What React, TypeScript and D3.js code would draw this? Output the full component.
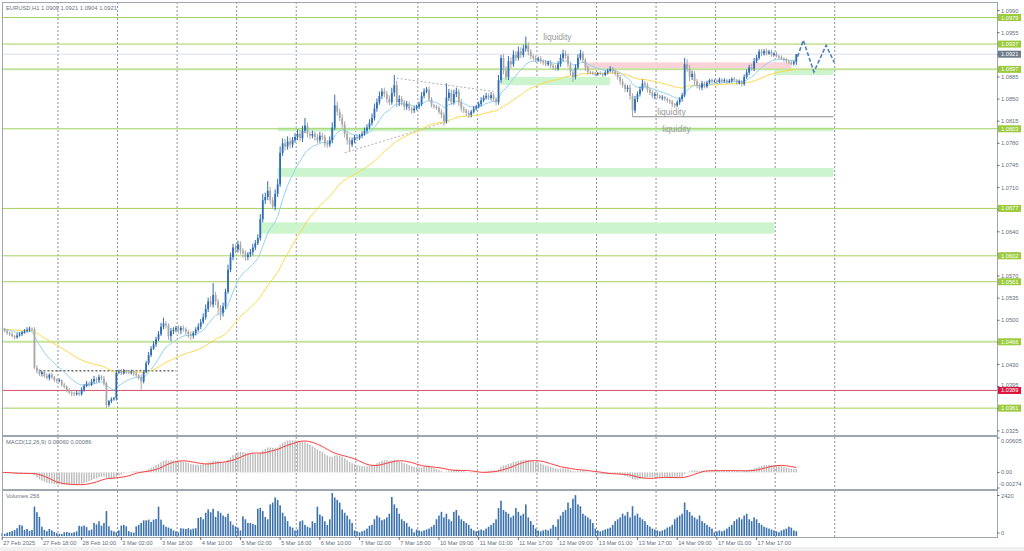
import React from 'react';
import * as d3 from 'd3';

// ---------------- DATA ----------------
// closes in pips above 1.0000 (e.g. 486 -> 1.0486), one per H1 bar
const closePips = [
  486,483,480,478,475,473,476,478,481,483,485,487,486,425,420,415,418,412,409,414,
  410,406,404,405,398,395,390,386,384,383,385,383,390,396,400,398,403,407,405,410,
  408,400,366,372,375,377,417,419,416,420,418,417,419,416,413,410,403,418,432,445,
  455,462,470,478,490,495,492,475,483,485,488,484,488,486,482,478,476,480,485,490,
  497,505,518,530,525,540,530,520,512,522,545,580,600,615,612,620,610,606,600,604,
  608,615,622,630,660,690,695,705,690,680,700,715,765,780,775,783,778,785,790,795,
  788,800,808,795,792,795,790,785,792,790,780,778,785,805,840,830,820,810,795,785,
  778,785,790,788,792,795,800,805,812,820,835,845,855,862,858,850,845,860,872,845,
  850,845,838,842,835,832,835,838,842,855,862,865,850,840,838,836,830,825,815,852,
  860,845,858,862,845,835,832,828,825,830,835,838,842,848,852,855,852,856,850,845,
  880,915,895,885,910,905,920,915,925,920,930,935,925,918,915,912,914,910,908,905,
  908,903,900,898,905,915,922,918,905,892,885,900,915,922,912,900,893,892,890,889,
  891,890,888,892,895,898,894,890,885,878,872,866,868,855,832,850,858,865,875,872,
  865,860,855,858,855,852,853,850,848,846,842,840,845,850,856,905,898,885,890,878,
  872,868,875,870,876,880,878,879,877,881,878,880,877,879,882,880,876,878,874,885,
  892,900,898,910,915,925,922,926,922,925,920,922,918,916,914,912,910,908,906,909,
  921,
];
const firstOpenPips = 488;
const wickUpPips = [
  3,2,3,2,3,2,4,3,2,3,4,3,2,3,4,3,2,3,4,2,
  3,2,2,3,2,3,2,3,2,3,4,3,4,3,4,3,4,5,3,4,
  3,4,3,2,3,2,4,3,4,3,2,3,3,2,3,2,4,3,4,5,
  4,5,4,5,6,9,4,3,5,4,3,4,3,4,3,3,4,3,4,5,
  5,6,7,6,8,19,5,4,4,6,5,8,7,6,5,6,5,4,5,4,
  5,6,5,6,8,10,7,15,6,5,7,9,10,8,7,8,6,5,6,7,
  6,8,12,5,4,5,4,5,6,5,4,5,6,8,17,6,5,6,5,4,
  5,4,3,4,3,4,5,5,6,7,8,6,7,5,6,5,6,8,16,7,
  6,5,4,5,4,3,4,3,4,6,5,4,5,3,2,3,3,4,4,23,
  6,5,7,6,4,5,4,3,4,3,4,3,4,5,4,5,4,5,4,3,
  8,5,6,7,8,6,7,6,8,7,6,14,5,4,3,4,3,4,3,4,
  3,4,3,4,5,6,6,5,4,3,4,5,6,6,4,3,3,2,2,3,
  2,3,2,3,3,4,3,3,4,3,4,3,4,5,4,5,4,5,6,4,
  4,3,4,3,3,2,3,2,3,2,3,2,3,3,4,10,8,6,5,4,
  4,3,4,3,3,2,3,2,2,3,2,3,2,3,2,3,2,3,2,4,
  5,4,6,5,5,4,4,3,4,3,3,2,3,2,3,2,3,2,3,2,
  0,
];
const wickDnPips = [
  3,2,3,3,2,3,2,2,3,2,2,3,3,2,4,3,4,3,3,4,
  3,4,3,2,3,3,4,3,4,3,2,3,2,3,2,3,2,3,4,3,
  3,4,5,3,3,2,4,2,3,2,3,2,3,4,3,4,13,3,2,3,
  3,2,4,3,3,4,5,6,8,5,4,5,6,4,5,6,7,5,4,3,
  4,3,4,5,4,5,6,10,12,6,4,3,4,5,6,5,6,7,6,5,
  4,5,4,3,4,5,6,5,6,4,6,5,4,5,6,5,6,5,4,5,
  5,6,4,6,5,4,6,5,4,5,6,5,4,5,4,6,5,5,6,7,
  11,4,5,4,3,4,3,4,3,4,4,5,4,5,5,6,5,4,6,8,
  6,5,6,5,4,5,4,3,4,3,4,3,4,3,3,3,4,5,7,4,
  5,4,4,5,6,5,4,5,5,4,3,3,3,4,3,3,3,4,4,5,
  4,5,6,5,5,6,4,5,4,5,4,5,6,5,4,4,3,4,4,3,
  3,4,4,3,3,4,5,4,5,5,8,4,3,4,5,6,5,3,2,3,
  2,2,3,2,3,3,4,3,4,5,4,5,5,6,10,4,5,4,3,4,
  5,4,4,5,4,3,4,3,4,4,5,4,3,4,4,3,5,7,5,6,
  5,4,4,3,3,2,3,2,3,2,3,2,3,2,3,2,3,3,4,3,
  3,4,3,4,3,3,4,3,3,2,3,3,2,3,2,3,3,3,2,3,
  5,
];
const volumes = [
  150,120,180,220,260,320,420,600,560,330,380,280,320,1580,1280,1030,500,330,260,380,
  300,220,150,120,110,200,220,180,160,200,250,550,520,560,480,300,350,700,620,790,
  560,700,1340,520,300,250,200,300,560,600,520,260,200,180,515,600,700,840,840,880,
  760,880,915,1575,880,605,500,450,400,300,250,200,420,400,380,420,350,400,420,970,
  1025,900,1250,1430,1280,1465,1025,1340,1250,1100,1025,1200,790,600,515,450,300,1060,900,700,
  700,650,600,1465,1520,1340,1025,900,1700,1800,2070,1940,1650,1250,1060,800,515,450,300,350,
  790,840,600,500,450,790,700,1575,1155,1060,790,600,900,2310,2070,1940,1800,1430,1250,1100,
  900,700,300,250,200,250,300,400,550,600,900,1100,1000,850,900,1000,1200,2100,1700,1500,
  1200,900,800,700,500,400,200,350,300,250,300,350,400,500,600,900,1100,1300,1000,1200,
  900,800,1300,1400,1100,900,800,700,600,400,300,250,300,350,300,400,500,600,700,900,
  1500,1900,1400,1300,1200,1000,1100,1500,1300,1100,1200,1700,1000,800,600,400,300,250,300,350,
  300,400,600,500,900,1100,1300,1400,1800,1500,2000,2200,1700,1600,1200,1100,1000,900,700,400,
  300,250,300,350,400,450,600,800,900,1000,1200,1100,1300,1000,1600,1100,1200,1000,900,800,
  600,500,400,350,300,250,300,350,450,500,600,900,1000,1100,1200,1800,1400,1300,1100,1000,
  900,1100,800,700,600,500,400,200,250,300,250,300,400,500,600,800,900,1000,900,1100,
  1200,900,800,1000,900,700,600,500,450,400,350,300,250,200,300,350,400,500,450,300,
  256,
];

const timeLabels = [
  '27 Feb 2025','27 Feb 18:00','28 Feb 10:00','3 Mar 02:00','3 Mar 18:00','4 Mar 10:00',
  '5 Mar 02:00','5 Mar 18:00','6 Mar 10:00','7 Mar 02:00','7 Mar 18:00','10 Mar 09:00',
  '11 Mar 01:00','11 Mar 17:00','12 Mar 09:00','13 Mar 01:00','13 Mar 17:00','14 Mar 09:00',
  '17 Mar 01:00','17 Mar 17:00',
];
const barsPerTimeLabel = 16;
const daySeparatorBars = [22,46,70,94,118,142,167,191,215,239,263,287,311,335];
const priceTickLabels = [
  '1.0990','1.0955','1.0920','1.0885','1.0850','1.0815','1.0780','1.0745','1.0710','1.0675',
  '1.0640','1.0605','1.0570','1.0535','1.0500','1.0465','1.0430','1.0395','1.0360','1.0325',
];
const greenLevels = [1.0979,1.0937,1.0897,1.0803,1.0677,1.0602,1.0561,1.0466,1.0361];
const boldLevels = [1.0897,1.0466];
const redLevels = [1.0389];
const currentPrice = 1.0921;
const macdTickLabels = ['0.00605','0.00','-0.00274'];
const macdTickValues = [0.00605,0,-0.00274];
const volumeTickLabels = ['2420','0'];
const volumeTickValues = [2420,0];
// zones: [fromBar, toBar, low, high]
const greenZones = [
  [201,245,1.0872,1.0885],
  [311,335,1.0888,1.0897],
  [111,335,1.0727,1.0741],
  [104,311,1.0637,1.0655],
  [111,335,1.0799,1.0805],
];
const pinkZones = [[235,318,1.0898,1.0908]];
// horizontal segments: [fromBar, toBar, price]
const blackDashed = [[15,70,1.0420]];
const greySolid = [[254,335,1.0822]];
// trend lines: [bar1, price1, bar2, price2]
const greyDashed = [
  [159,1.0883,198,1.0862],
  [138,1.0765,180,1.0815],
];
const liquidityLabels = [
  [218,1.0943],
  [264,1.0825],
  [266,1.0798],
];
const projection = [
  [320.5,1.0917],[322.8,1.0943],[327.1,1.0893],[332,1.0935],[335.3,1.0908],
];
const header = 'EURUSD,H1  1.0909 1.0921 1.0904 1.0921';
const macdTitle = 'MACD(12,26,9) 0.00060 0.00086';
const volTitle = 'Volumes 256';

// ---------------- HELPERS ----------------
function ema(vals: number[], n: number) {
  const k = 2 / (n + 1);
  const out: number[] = [];
  vals.forEach((v, i) => out.push(i === 0 ? v : out[i - 1] + k * (v - out[i - 1])));
  return out;
}
function sma(vals: number[], n: number) {
  return vals.map((_, i) => {
    const s = vals.slice(Math.max(0, i - n + 1), i + 1);
    return d3.mean(s) as number;
  });
}

const FONT = "'Liberation Sans', Arial, sans-serif";

export default function App() {
  const W = 1024, H = 551;
  const L = 2, R = 997, T = 2, MB = 435, MT2 = 437, MB2 = 489, VT = 491, VB = 537;
  const x = d3.scaleLinear().domain([0, 400]).range([2.2, 2.2 + 400 * 2.4816]);
  const yP = d3.scaleLinear().domain([1.0325, 1.0955]).range([430.9, 32.7]);
  const yM = d3.scaleLinear().domain([-0.00274, 0.00605]).range([488, 438]);
  const yV = d3.scaleLinear().domain([0, 2420]).range([536, 491]);

  const closes = closePips.map((p) => 1 + p / 10000);
  const bars = closes.map((c, i) => {
    const o = i === 0 ? 1 + firstOpenPips / 10000 : closes[i - 1];
    const h = Math.max(o, c) + (wickUpPips[i] ?? 3) / 10000;
    const l = Math.min(o, c) - (wickDnPips[i] ?? 3) / 10000;
    return { o, h, l, c, i };
  });
  const maFast = ema(closes, 14);
  const maSlow = ema(closes, 50);
  const e12 = ema(closes, 12), e26 = ema(closes, 26);
  const macd = e12.map((v, i) => v - e26[i]);
  const signal = sma(macd, 9);

  const line = d3.line<number>().x((_, i) => x(i)).y((d) => yP(d));
  const sigLine = d3.line<number>().x((_, i) => x(i)).y((d) => yM(d));
  const projLine = d3.line<number[]>().x((d) => x(d[0])).y((d) => yP(d[1]));

  const axisColor = '#5f6e7d';
  const lvlColor = '#a3d05c';
  const tagPrices = [...greenLevels, ...redLevels, currentPrice];

  return (
    <svg width={W} height={H} style={{ position: 'absolute', left: 0, top: 0, background: '#fff' }} fontFamily={FONT}>
      <defs>
        <clipPath id="mainClip"><rect x={L} y={T} width={R - L} height={MB - T} /></clipPath>
        <clipPath id="macdClip"><rect x={L} y={MT2} width={R - L} height={MB2 - MT2} /></clipPath>
      </defs>
      <rect x={0} y={0} width={W} height={H} fill="#fff" />
      <rect x={0} y={547} width={W} height={4} fill="#f0f0f0" />

      {/* separators (dashed verticals) */}
      {daySeparatorBars.map((b) => (
        <g key={'sep' + b}>
          <line x1={x(b) + 1.2} x2={x(b) + 1.2} y1={T} y2={MB} stroke="#8a8f99" strokeDasharray="2,2" strokeWidth={1} />
          <line x1={x(b) + 1.2} x2={x(b) + 1.2} y1={MT2} y2={MB2} stroke="#8a8f99" strokeDasharray="2,2" strokeWidth={1} />
          <line x1={x(b) + 1.2} x2={x(b) + 1.2} y1={VT} y2={VB} stroke="#8a8f99" strokeDasharray="2,2" strokeWidth={1} />
        </g>
      ))}

      <g clipPath="url(#mainClip)">
        {greenZones.map((z, k) => (
          <rect key={'gz' + k} x={x(z[0])} width={x(z[1]) - x(z[0])} y={yP(z[3])} height={yP(z[2]) - yP(z[3])} fill="#cdf5cd" />
        ))}
        {pinkZones.map((z, k) => (
          <rect key={'pz' + k} x={x(z[0])} width={x(z[1]) - x(z[0])} y={yP(z[3])} height={yP(z[2]) - yP(z[3])} fill="#f9d3d8" />
        ))}
        <line x1={L} x2={R} y1={yP(currentPrice)} y2={yP(currentPrice)} stroke="#dcdcf0" strokeWidth={1} />
        {greenLevels.map((p) => (
          <line key={'gl' + p} x1={L} x2={R} y1={yP(p)} y2={yP(p)}
            stroke={boldLevels.includes(p) ? '#c4e29a' : lvlColor} strokeWidth={boldLevels.includes(p) ? 2 : 1} />
        ))}
        {redLevels.map((p) => (
          <line key={'rl' + p} x1={L} x2={R} y1={yP(p)} y2={yP(p)} stroke="#d9506a" strokeWidth={1} />
        ))}
        {blackDashed.map((s, k) => (
          <line key={'bd' + k} x1={x(s[0])} x2={x(s[1])} y1={yP(s[2])} y2={yP(s[2])} stroke="#222" strokeDasharray="2,2" />
        ))}
        {greySolid.map((s, k) => (
          <line key={'gs' + k} x1={x(s[0])} x2={x(s[1])} y1={yP(s[2])} y2={yP(s[2])} stroke="#8c8c8c" />
        ))}
        {greyDashed.map((s, k) => (
          <line key={'gd' + k} x1={x(s[0])} x2={x(s[2])} y1={yP(s[1])} y2={yP(s[3])} stroke="#b0b0b0" strokeDasharray="2,2" />
        ))}
        <path d={line(maSlow) || ''} fill="none" stroke="#ffd84a" strokeWidth={1} />
        <path d={line(maFast) || ''} fill="none" stroke="#93d2f0" strokeWidth={1} />
        {bars.map((b) => {
          const up = b.c > b.o + 0.00005;
          const dn = b.c < b.o - 0.00005;
          const col = up ? '#2f6db5' : dn ? '#a7a7a7' : '#222';
          const cx = x(b.i);
          const top = yP(Math.max(b.o, b.c));
          const bot = yP(Math.min(b.o, b.c));
          return (
            <g key={'c' + b.i}>
              <line x1={cx} x2={cx} y1={yP(b.h)} y2={yP(b.l)} stroke={col} strokeWidth={1} />
              <rect x={cx - 0.9} width={1.8} y={top} height={Math.max(0.8, bot - top)} fill={col} />
            </g>
          );
        })}
        <path d={projLine(projection) || ''} fill="none" stroke="#4f7fc0" strokeWidth={1.6} strokeDasharray="4,2" />
        {liquidityLabels.map((l, k) => (
          <text key={'lq' + k} x={x(l[0])} y={yP(l[1])} fontSize={8.5} fill="#9a9a9a">liquidity</text>
        ))}
      </g>

      <g clipPath="url(#macdClip)">
        {macd.map((m, i) => (
          <rect key={'m' + i} x={x(i) - 0.7} width={1.4} y={Math.min(yM(m), yM(0))} height={Math.abs(yM(m) - yM(0))} fill="#bdbdbd" />
        ))}
        <path d={sigLine(signal) || ''} fill="none" stroke="#ff3b3b" strokeWidth={1} />
      </g>

      {volumes.map((v, i) => (
        <rect key={'v' + i} x={x(i) - 0.8} width={1.6} y={yV(v)} height={yV(0) - yV(v)} fill="#3b72ad" />
      ))}

      <rect x={L + 0.5} y={T + 0.5} width={R - L} height={VB - T} fill="none" stroke="#9ea6b0" strokeWidth={1} />
      <line x1={L} x2={R} y1={MB + 1} y2={MB + 1} stroke="#9ea6b0" strokeWidth={2} />
      <line x1={L} x2={R} y1={MB2 + 1} y2={MB2 + 1} stroke="#9ea6b0" strokeWidth={2} />
      <line x1={R + 0.5} x2={R + 0.5} y1={T} y2={VB} stroke="#9ea6b0" strokeWidth={1} />

      <text x={6} y={10} fontSize={5.8} fill="#6a7480">{header}</text>
      <text x={6} y={444} fontSize={5.8} fill="#6a7480">{macdTitle}</text>
      <text x={6} y={498} fontSize={5.8} fill="#6a7480">{volTitle}</text>

      {priceTickLabels.map((t) => {
        const yy = yP(+t);
        // if a tag sits just below the label, lift the label above the tag
        let ty = yy + 2;
        tagPrices.forEach((p) => {
          const d = yP(p) - yy;
          if (d > 2.5 && d < 7.5) ty = Math.min(ty, yP(p) - 3.8);
        });
        return (
          <g key={'pt' + t}>
            <line x1={R} x2={R + 2.5} y1={yy} y2={yy} stroke={axisColor} />
            <text x={1001} y={ty} fontSize={5.7} fill={axisColor}>{t}</text>
          </g>
        );
      })}
      {greenLevels.map((p) => (
        <g key={'tag' + p}>
          <rect x={998} y={yP(p) - 3.5} width={23} height={7} fill="#9bcb3c" />
          <text x={1001} y={yP(p) + 2} fontSize={5.7} fill="#fff">{p.toFixed(4)}</text>
        </g>
      ))}
      {redLevels.map((p) => (
        <g key={'rtag' + p}>
          <rect x={998} y={yP(p) - 3.5} width={23} height={7} fill="#dc143c" />
          <text x={1001} y={yP(p) + 2} fontSize={5.7} fill="#fff">{p.toFixed(4)}</text>
        </g>
      ))}
      <rect x={998} y={yP(currentPrice) - 3.5} width={23} height={7} fill="#6e7b8b" />
      <text x={1001} y={yP(currentPrice) + 2} fontSize={5.7} fill="#fff">{currentPrice.toFixed(4)}</text>

      {macdTickLabels.map((t, k) => {
        const yy = Math.min(Math.max(yM(macdTickValues[k]), 441), 483.5);
        return (
          <g key={'mt' + k}>
            <line x1={R} x2={R + 2.5} y1={yM(macdTickValues[k])} y2={yM(macdTickValues[k])} stroke={axisColor} />
            <text x={t.startsWith('-') ? 999 : 1001} y={yy + 2} fontSize={5.7} fill={axisColor}>{t}</text>
          </g>
        );
      })}
      {volumeTickLabels.map((t, k) => {
        const yy = Math.min(Math.max(yV(volumeTickValues[k]), 495.5), 533);
        return (
          <g key={'vt' + k}>
            <line x1={R} x2={R + 2.5} y1={yy} y2={yy} stroke={axisColor} />
            <text x={1001} y={yy + 2} fontSize={5.7} fill={axisColor}>{t}</text>
          </g>
        );
      })}

      {timeLabels.map((t, k) => {
        const xx = x(k * barsPerTimeLabel);
        return (
          <g key={'tl' + k}>
            <line x1={xx} x2={xx} y1={VB} y2={VB + 3} stroke={axisColor} />
            <text x={xx + 1} y={545} fontSize={5.7} fill={axisColor}>{t}</text>
          </g>
        );
      })}
    </svg>
  );
}
